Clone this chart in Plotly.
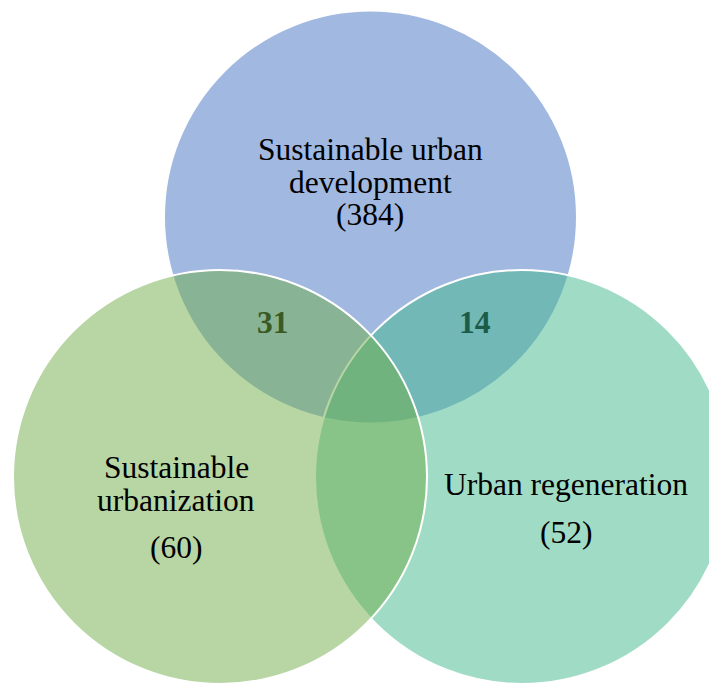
import plotly.graph_objects as go

# Data
set_names = ["Sustainable urban development", "Urban regeneration", "Sustainable urbanization"]
set_counts = [384, 52, 60]
overlap_labels = ["31", "14"]  # SUD∩SU, SUD∩UR

# Layout config (positions / styles)
circles = [  # cx, cy, r, rgb
    (370.5, 217.0, 206.5, (68, 114, 196)),
    (522.0, 477.0, 207.0, (65, 183, 141)),
    (220.0, 477.0, 207.0, (112, 173, 71)),
]
FONT = "Liberation Serif, Times New Roman, serif"
FS = 31.5
OFF = 8  # default page body margin

fig = go.Figure()
shapes = []
for cx, cy, r, (R, G, B) in circles:
    shapes.append(dict(type="circle", xref="x", yref="y",
                       x0=cx - r, x1=cx + r, y0=cy - r, y1=cy + r,
                       fillcolor=f"rgba({R},{G},{B},0.5)",
                       line=dict(color="white", width=2), layer="above"))

# label lines: (text, x, y)
labels = [
    ("Sustainable urban", 370, 149),
    ("development", 370, 182),
    (f"({set_counts[0]})", 370, 214),
    ("Urban regeneration", 566, 484),
    (f"({set_counts[1]})", 566, 532),
    ("Sustainable", 176, 467),
    ("urbanization", 176, 500),
    (f"({set_counts[2]})", 176, 547),
]
ann = []
for t, x, y in labels:
    ann.append(dict(text=t, x=x, y=y, xref="x", yref="y", showarrow=False,
                    xanchor="center", yanchor="middle",
                    font=dict(family=FONT, size=FS, color="black")))
ann.append(dict(text=f"<b>{overlap_labels[0]}</b>", x=273, y=322.5, xref="x", yref="y",
                showarrow=False, xanchor="center", yanchor="middle",
                font=dict(family=FONT, size=FS, color="#3a5a24")))
ann.append(dict(text=f"<b>{overlap_labels[1]}</b>", x=475, y=322.5, xref="x", yref="y",
                showarrow=False, xanchor="center", yanchor="middle",
                font=dict(family=FONT, size=FS, color="#1b5b48")))

fig.update_layout(
    width=717 - OFF, height=684 - OFF, margin=dict(l=0, r=0, t=0, b=0),
    paper_bgcolor="white", plot_bgcolor="white",
    xaxis=dict(range=[OFF, 717], visible=False, fixedrange=True),
    yaxis=dict(range=[684, OFF], visible=False, fixedrange=True),
    shapes=shapes, annotations=ann, showlegend=False,
)
fig.write_html("out.html")
